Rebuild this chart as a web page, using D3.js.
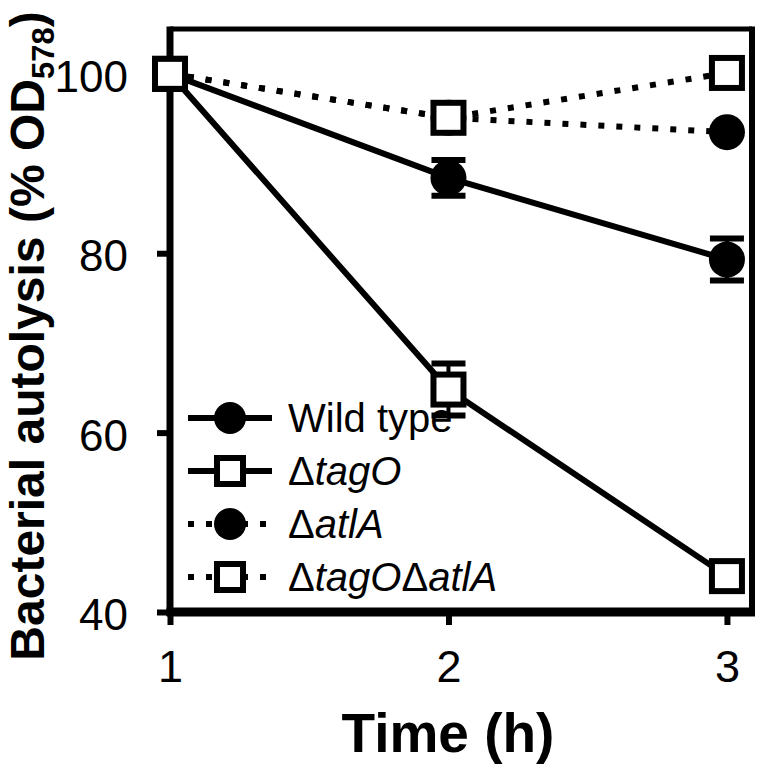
<!DOCTYPE html>
<html>
<head>
<meta charset="utf-8">
<script src="https://cdn.jsdelivr.net/npm/d3@7"></script>
<style>
  html, body { margin: 0; padding: 0; background: #fff; }
  svg { display: block; }
  text { font-family: Arial, "Liberation Sans", sans-serif; fill: #000; }
</style>
</head>
<body>
<svg id="chart" width="764" height="770"></svg>
<script>
// ---- data ----
const times = [1, 2, 3];
const wildType = [100, 88.4, 79.3];
const wildTypeErr = [0, 2.0, 2.35];
const tagO = [100, 64.8, 44.0];
const tagOErr = [0, 2.9, 0.4];
const atlA = [100, 95.1, 93.5];
const atlAErr = [0, 0, 0];
const tagOatlA = [100, 95.1, 100.1];
const tagOatlAErr = [0, 0, 0];
const yTicks = [40, 60, 80, 100];
const xTicks = [1, 2, 3];
const seriesNames = ["Wild type", "ΔtagO", "ΔatlA", "ΔtagOΔatlA"];

const series = [
  { name: seriesNames[0], values: wildType, err: wildTypeErr, marker: "circle", dotted: false },
  { name: seriesNames[1], values: tagO, err: tagOErr, marker: "square", dotted: false },
  { name: seriesNames[2], values: atlA, err: atlAErr, marker: "circle", dotted: true },
  { name: seriesNames[3], values: tagOatlA, err: tagOatlAErr, marker: "square", dotted: true }
];

// ---- layout ----
const svg = d3.select("#chart");
const pL = 170, pR = 752, pT = 29, pB = 612;
const x = d3.scaleLinear().domain([1, 3.09]).range([pL, pR]);
const y = d3.scaleLinear().domain([40, 105]).range([pB, pT]);

const lineW = 6;
const dash = "6,12";
const mSize = 36;

// frame (top/right)
svg.append("line").attr("x1", pL).attr("x2", pR).attr("y1", pT).attr("y2", pT)
  .attr("stroke", "#000").attr("stroke-width", 5);
svg.append("line").attr("x1", pR).attr("x2", pR).attr("y1", pT - 2.5).attr("y2", pB)
  .attr("stroke", "#000").attr("stroke-width", 6);

// y axis
const yAxis = svg.append("g").attr("transform", `translate(${pL},0)`)
  .call(d3.axisLeft(y).tickValues(yTicks).tickFormat(d3.format("d"))
    .tickSize(13).tickSizeOuter(0).tickPadding(29));
yAxis.select(".domain").attr("stroke-width", 7).attr("d", `M0,${pT - 2.5}V${pB + 4}`);
yAxis.selectAll(".tick line").attr("stroke-width", 6);
yAxis.selectAll(".tick text").attr("font-size", 44).attr("dy", "0.4em")
  .style("font-family", "Arial, 'Liberation Sans', sans-serif");

// x axis
const xAxis = svg.append("g").attr("transform", `translate(0,${pB})`)
  .call(d3.axisBottom(x).tickValues(xTicks).tickFormat(d3.format("d"))
    .tickSize(13).tickSizeOuter(0).tickPadding(0));
xAxis.select(".domain").attr("stroke-width", 9).attr("d", `M${pL - 3.5},0H${pR + 3}`);
xAxis.selectAll(".tick line").attr("stroke-width", 6);
xAxis.selectAll(".tick text").attr("font-size", 45).attr("y", 70).attr("dy", 0)
  .style("font-family", "Arial, 'Liberation Sans', sans-serif");

// axis titles
svg.append("text")
  .attr("x", 448).attr("y", 752)
  .attr("text-anchor", "middle")
  .attr("font-size", 55).attr("font-weight", "bold")
  .text("Time (h)");

const yt = svg.append("text")
  .attr("transform", "translate(44,336) rotate(-90)")
  .attr("text-anchor", "middle")
  .attr("font-size", 48).attr("font-weight", "bold");
yt.append("tspan").text("Bacterial autolysis (% OD");
yt.append("tspan").attr("font-size", 31).attr("dy", 10).text("578");
yt.append("tspan").attr("dy", -10).text(")");

// lines
const line = d3.line().x((d, i) => x(times[i])).y(d => y(d));
const gLines = svg.append("g");
series.forEach(s => {
  gLines.append("path")
    .attr("d", line(s.values))
    .attr("fill", "none")
    .attr("stroke", "#000")
    .attr("stroke-width", lineW)
    .attr("stroke-dasharray", s.dotted ? dash : null);
});

// error bars + markers
function drawMarker(g, type, cx, cy, size) {
  if (type === "circle") {
    g.append("circle").attr("cx", cx).attr("cy", cy).attr("r", size / 2).attr("fill", "#000");
  } else {
    const sw = 6;
    const s = size - sw;
    g.append("rect").attr("x", cx - s / 2).attr("y", cy - s / 2)
      .attr("width", s).attr("height", s)
      .attr("fill", "#fff").attr("stroke", "#000").attr("stroke-width", sw);
  }
}

const gMarks = svg.append("g");
series.forEach(s => {
  s.values.forEach((v, i) => {
    const e = s.err[i];
    const cx = x(times[i]);
    if (e > 0) {
      const y1 = y(v + e), y2 = y(v - e);
      gMarks.append("line").attr("x1", cx).attr("x2", cx).attr("y1", y1).attr("y2", y2)
        .attr("stroke", "#000").attr("stroke-width", 4);
      [y1, y2].forEach(yy => {
        gMarks.append("line").attr("x1", cx - 17).attr("x2", cx + 17).attr("y1", yy).attr("y2", yy)
          .attr("stroke", "#000").attr("stroke-width", 6);
      });
    }
  });
});
// draw circles first, then squares on top
["circle", "square"].forEach(type => {
  series.filter(s => s.marker === type).forEach(s => {
    s.values.forEach((v, i) => drawMarker(gMarks, s.marker, x(times[i]), y(v), mSize));
  });
});

// legend
const legY = [418, 471, 524, 577];
const legX1 = 188, legX2 = 272, legMx = 230, legTx = 288;
const gLeg = svg.append("g");
series.forEach((s, i) => {
  const yy = legY[i];
  gLeg.append("line").attr("x1", legX1).attr("x2", legX2).attr("y1", yy).attr("y2", yy)
    .attr("stroke", "#000").attr("stroke-width", lineW)
    .attr("stroke-dasharray", s.dotted ? dash : null);
  drawMarker(gLeg, s.marker, legMx, yy, 32);
  const t = gLeg.append("text").attr("x", legTx).attr("y", yy + 14).attr("font-size", 40);
  if (i === 0) {
    t.text(s.name);
  } else {
    const parts = s.name.split("Δ").filter(p => p.length);
    parts.forEach(p => {
      t.append("tspan").text("Δ");
      t.append("tspan").attr("font-style", "italic").text(p);
    });
  }
});
</script>
</body>
</html>
